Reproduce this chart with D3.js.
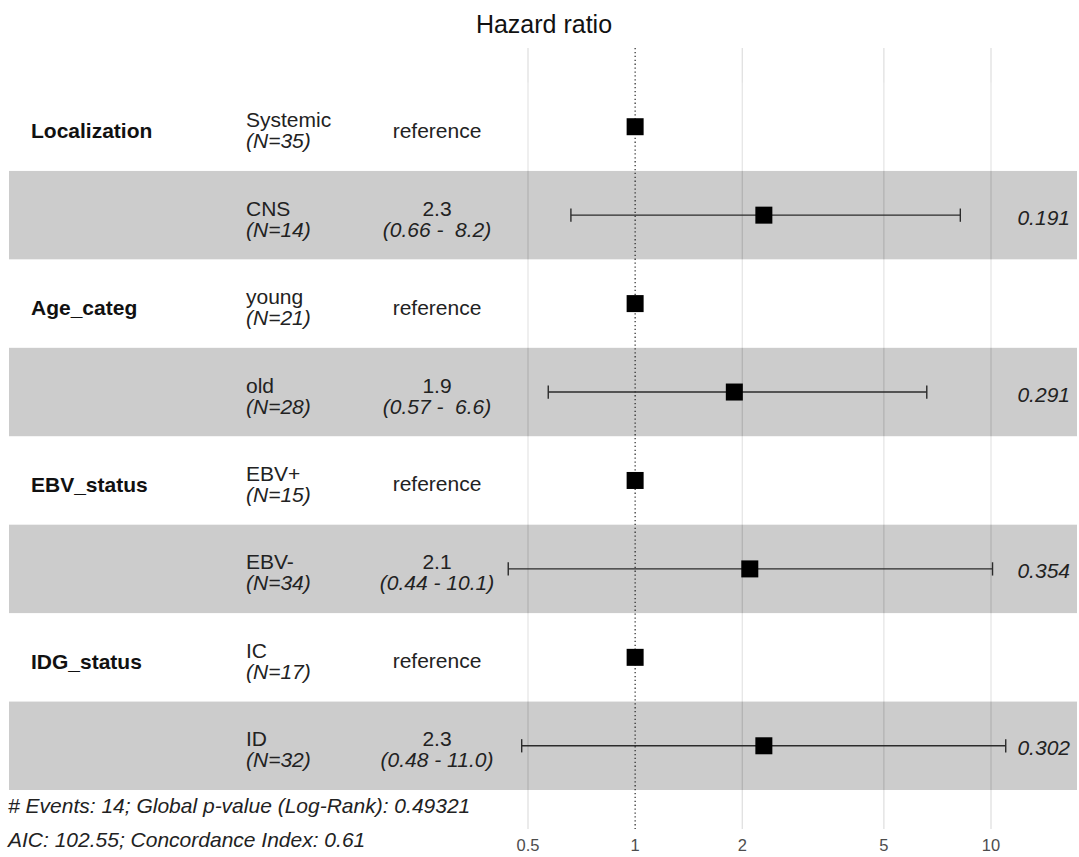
<!DOCTYPE html>
<html>
<head>
<meta charset="utf-8">
<script src="https://cdn.jsdelivr.net/npm/d3@7"></script>
<style>
  html, body { margin: 0; padding: 0; background: #ffffff; }
  svg { display: block; font-family: "Liberation Sans", Arial, sans-serif; }
  text { white-space: pre; }
</style>
</head>
<body>
<svg id="chart" width="1079" height="857"></svg>
<script>
// Cox model forest plot: one row per factor level
const variables = ["Localization", "", "Age_categ", "", "EBV_status", "", "IDG_status", ""];
const levels    = ["Systemic", "CNS", "young", "old", "EBV+", "EBV-", "IC", "ID"];
const counts    = [35, 14, 21, 28, 15, 34, 17, 32];
const hazard    = [1, 2.3, 1, 1.9, 1, 2.1, 1, 2.3];
const ciLow     = [null, 0.66, null, 0.57, null, 0.44, null, 0.48];
const ciHigh    = [null, 8.2, null, 6.6, null, 10.1, null, 11.0];
const pValues   = [null, "0.191", null, "0.291", null, "0.354", null, "0.302"];
const isReference = [true, false, true, false, true, false, true, false];
const axisTicks = [0.5, 1, 2, 5, 10];
const footerLines = [
  "# Events: 14; Global p-value (Log-Rank): 0.49321",
  "AIC: 102.55; Concordance Index: 0.61"
];

const rows = levels.map((lv, i) => ({
  i, variable: variables[i], level: lv, n: counts[i], hr: hazard[i],
  lo: ciLow[i], hi: ciHigh[i], p: pValues[i], ref: isReference[i]
}));

const svg = d3.select("#chart");
const panel = { left: 9, right: 1077, top: 48, bottom: 829 };

const x = d3.scaleLog().domain([0.5, 10]).range([528, 991]);
const y = d3.scaleBand().domain(rows.map(d => d.i)).range([82.5, 790]).padding(0);
const cy = i => y(i) + y.bandwidth() / 2;

// vertical grid lines (the reference value gets its own dotted line)
svg.append("g").selectAll("line")
  .data(axisTicks.filter(t => t !== 1))
  .join("line")
  .attr("x1", d => x(d)).attr("x2", d => x(d))
  .attr("y1", panel.top).attr("y2", panel.bottom)
  .attr("stroke", "#dedede").attr("stroke-width", 1.2);

// alternating row bands
svg.append("g").selectAll("rect")
  .data(rows)
  .join("rect")
  .attr("x", panel.left).attr("width", panel.right - panel.left)
  .attr("y", d => y(d.i)).attr("height", y.bandwidth())
  .attr("fill", d => d.i % 2 ? "rgba(0,0,0,0.2)" : "rgba(255,255,255,0.2)");

// line of no effect
svg.append("line")
  .attr("x1", x(1)).attr("x2", x(1))
  .attr("y1", panel.top).attr("y2", panel.bottom)
  .attr("stroke", "#111").attr("stroke-width", 1.1)
  .attr("stroke-dasharray", "1.3,2.6");

// confidence intervals
const ci = svg.append("g").selectAll("g")
  .data(rows.filter(d => d.lo != null))
  .join("g")
  .attr("stroke", "#2b2b2b").attr("stroke-width", 1.4);
const capH = y.bandwidth() * 0.15;
ci.append("line")
  .attr("x1", d => x(d.lo)).attr("x2", d => x(d.hi))
  .attr("y1", d => cy(d.i)).attr("y2", d => cy(d.i));
ci.append("line")
  .attr("x1", d => x(d.lo)).attr("x2", d => x(d.lo))
  .attr("y1", d => cy(d.i) - capH / 2).attr("y2", d => cy(d.i) + capH / 2);
ci.append("line")
  .attr("x1", d => x(d.hi)).attr("x2", d => x(d.hi))
  .attr("y1", d => cy(d.i) - capH / 2).attr("y2", d => cy(d.i) + capH / 2);

// point estimates
const sq = 17;
svg.append("g").selectAll("rect")
  .data(rows)
  .join("rect")
  .attr("x", d => x(d.hr) - sq / 2).attr("y", d => cy(d.i) - sq / 2)
  .attr("width", sq).attr("height", sq)
  .attr("fill", "#000");

// title
svg.append("text")
  .attr("x", 544).attr("y", 33)
  .attr("text-anchor", "middle")
  .attr("font-size", 25).attr("fill", "#111")
  .text("Hazard ratio");

// variable names
svg.append("g").selectAll("text")
  .data(rows.filter(d => d.variable))
  .join("text")
  .attr("x", 31).attr("y", d => cy(d.i) + 11.5)
  .attr("font-size", 21).attr("font-weight", "bold").attr("fill", "#111")
  .text(d => d.variable);

// levels with sample sizes
const lvl = svg.append("g").attr("fill", "#222").attr("font-size", 21);
lvl.selectAll("text.level")
  .data(rows).join("text").attr("class", "level")
  .attr("x", 246).attr("y", d => cy(d.i) + 0.5)
  .text(d => d.level);
lvl.selectAll("text.n")
  .data(rows).join("text").attr("class", "n")
  .attr("x", 246).attr("y", d => cy(d.i) + 21.5)
  .attr("font-style", "italic")
  .text(d => `(N=${d.n})`);

// estimates and intervals
const est = svg.append("g").attr("fill", "#222").attr("font-size", 21).attr("text-anchor", "middle");
est.selectAll("text.ref")
  .data(rows.filter(d => d.ref)).join("text").attr("class", "ref")
  .attr("x", 437).attr("y", d => cy(d.i) + 11)
  .text("reference");
est.selectAll("text.hr")
  .data(rows.filter(d => !d.ref)).join("text").attr("class", "hr")
  .attr("x", 437).attr("y", d => cy(d.i) + 0.5)
  .text(d => d.hr.toFixed(1));
est.selectAll("text.ci")
  .data(rows.filter(d => !d.ref)).join("text").attr("class", "ci")
  .attr("x", 437).attr("y", d => cy(d.i) + 21.5)
  .attr("font-style", "italic")
  .text(d => `(${d.lo.toFixed(2)} - ${d.hi.toFixed(1).padStart(4, " ")})`);

// p-values
svg.append("g").selectAll("text")
  .data(rows.filter(d => d.p)).join("text")
  .attr("x", 1070).attr("y", d => cy(d.i) + 9.5)
  .attr("text-anchor", "end")
  .attr("font-size", 21).attr("font-style", "italic").attr("fill", "#222")
  .text(d => d.p);

// x axis labels
svg.append("g").selectAll("text")
  .data(axisTicks).join("text")
  .attr("x", d => x(d)).attr("y", 851)
  .attr("text-anchor", "middle")
  .attr("font-size", 16.5).attr("fill", "#4d4d4d")
  .text(d => d3.format("~g")(d));

// model summary
svg.append("g").selectAll("text")
  .data(footerLines).join("text")
  .attr("x", 8).attr("y", (d, i) => 813 + i * 34)
  .attr("font-size", 21).attr("font-style", "italic").attr("fill", "#222")
  .text(d => d);
</script>
</body>
</html>
